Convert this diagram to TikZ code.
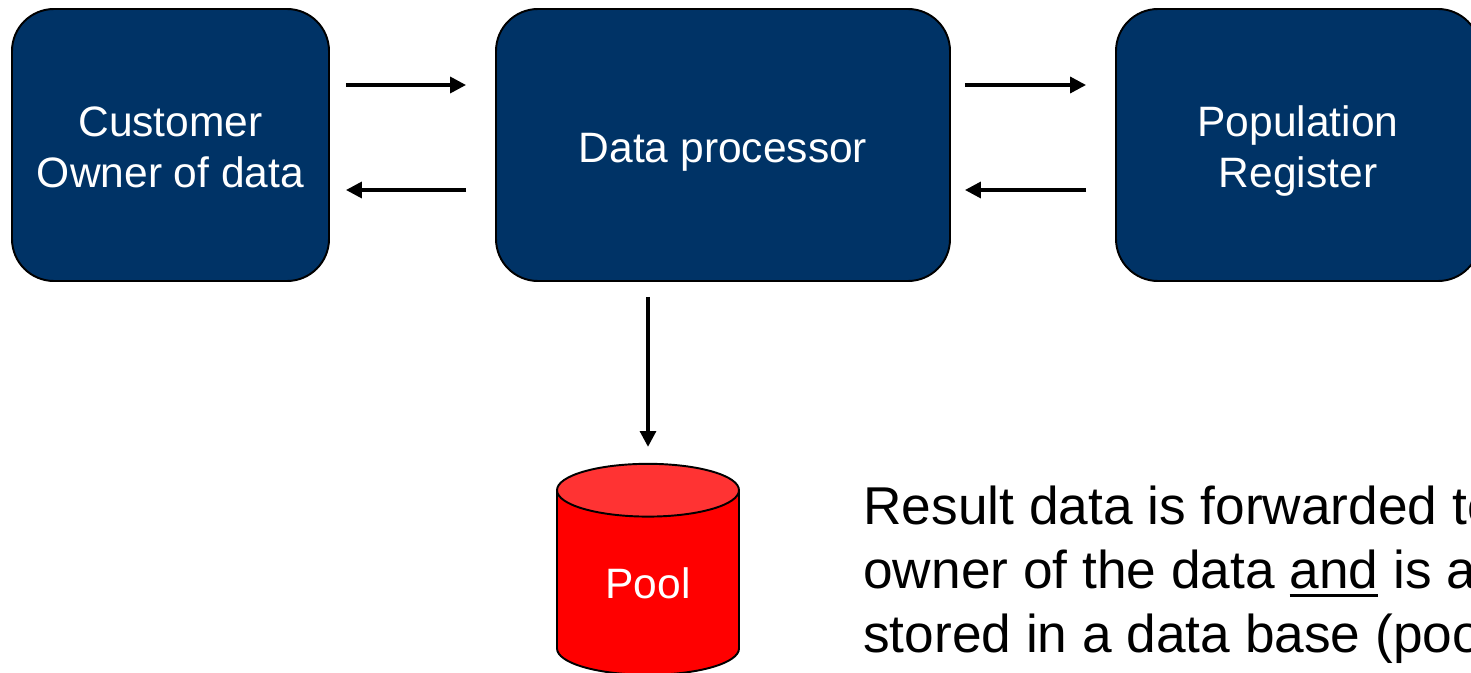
\documentclass[tikz,border=0pt]{standalone}
\usepackage{fontspec}
\setmainfont{Liberation Sans}
\usetikzlibrary{arrows.meta,shapes.geometric,positioning}

\definecolor{navybox}{HTML}{003366}
\definecolor{poolred}{HTML}{FF0000}
\definecolor{pooltop}{HTML}{FF3333}

\newcommand{\thickul}[1]{\setbox0\hbox{#1}\rlap{\vrule width\wd0 height -3pt depth 4.7pt}\box0\relax}
\newcommand{\tophold}{\rule{0pt}{25pt}}
\newcommand{\bothold}{\rule[-5.5pt]{0pt}{5.5pt}}

\tikzset{
  party/.style={draw=black, line width=1.1pt, fill=navybox, rounded corners=0.84cm,
    text=white, align=center, minimum height=5.44cm, font=\fontsize{24.2}{29}\selectfont},
  store/.style={shape=cylinder, draw=black, line width=1.1pt, shape border rotate=90, aspect=0.62,
    cylinder uses custom fill, cylinder body fill=poolred, cylinder end fill=pooltop,
    text=white, minimum width=3.64cm, minimum height=4.22cm, inner sep=0pt, font=\fontsize{24.2}{29}\selectfont},
  flow/.style={line width=2pt, -{Triangle[length=9pt,width=9pt]}},
}

\begin{document}
\begin{tikzpicture}
\useasboundingbox (0,0) rectangle (29.42,13.44);
\clip (0,0) rectangle (29.42,13.44);

\node[party, minimum width=6.34cm] at (3.41,10.54) (cust) {\tophold Customer\\Owner of data\bothold};
\node[party, minimum width=9.08cm] at (14.46,10.54) (proc) {\tophold Data processor\bothold};
\node[party, minimum width=7.28cm] at (25.96,10.54) (popreg) {\tophold Population\\Register\bothold};
\node[store] at (12.96,1.78) (pool) {Pool};

\node[anchor=north west, align=left, inner sep=0pt, font=\fontsize{30.3}{36.4}\selectfont]
  at (17.26,3.72) (note) {Result data is forwarded to\\owner of the data \thickul{and} is also\\stored in a data base (pool)};

\draw[flow, shorten <=0.32cm, shorten >=0.58cm] ([yshift=1.2cm]cust.east) -- ([yshift=1.2cm]proc.west);
\draw[flow, shorten <=0.58cm, shorten >=0.32cm] ([yshift=-0.9cm]proc.west) -- ([yshift=-0.9cm]cust.east);
\draw[flow, shorten <=0.28cm, shorten >=0.58cm] ([yshift=1.2cm]proc.east) -- ([yshift=1.2cm]popreg.west);
\draw[flow, shorten <=0.58cm, shorten >=0.28cm] ([yshift=-0.9cm]popreg.west) -- ([yshift=-0.9cm]proc.east);
\draw[flow, shorten <=0.3cm, shorten >=0.32cm] (pool.north |- proc.south) -- (pool.north);
\end{tikzpicture}
\end{document}
